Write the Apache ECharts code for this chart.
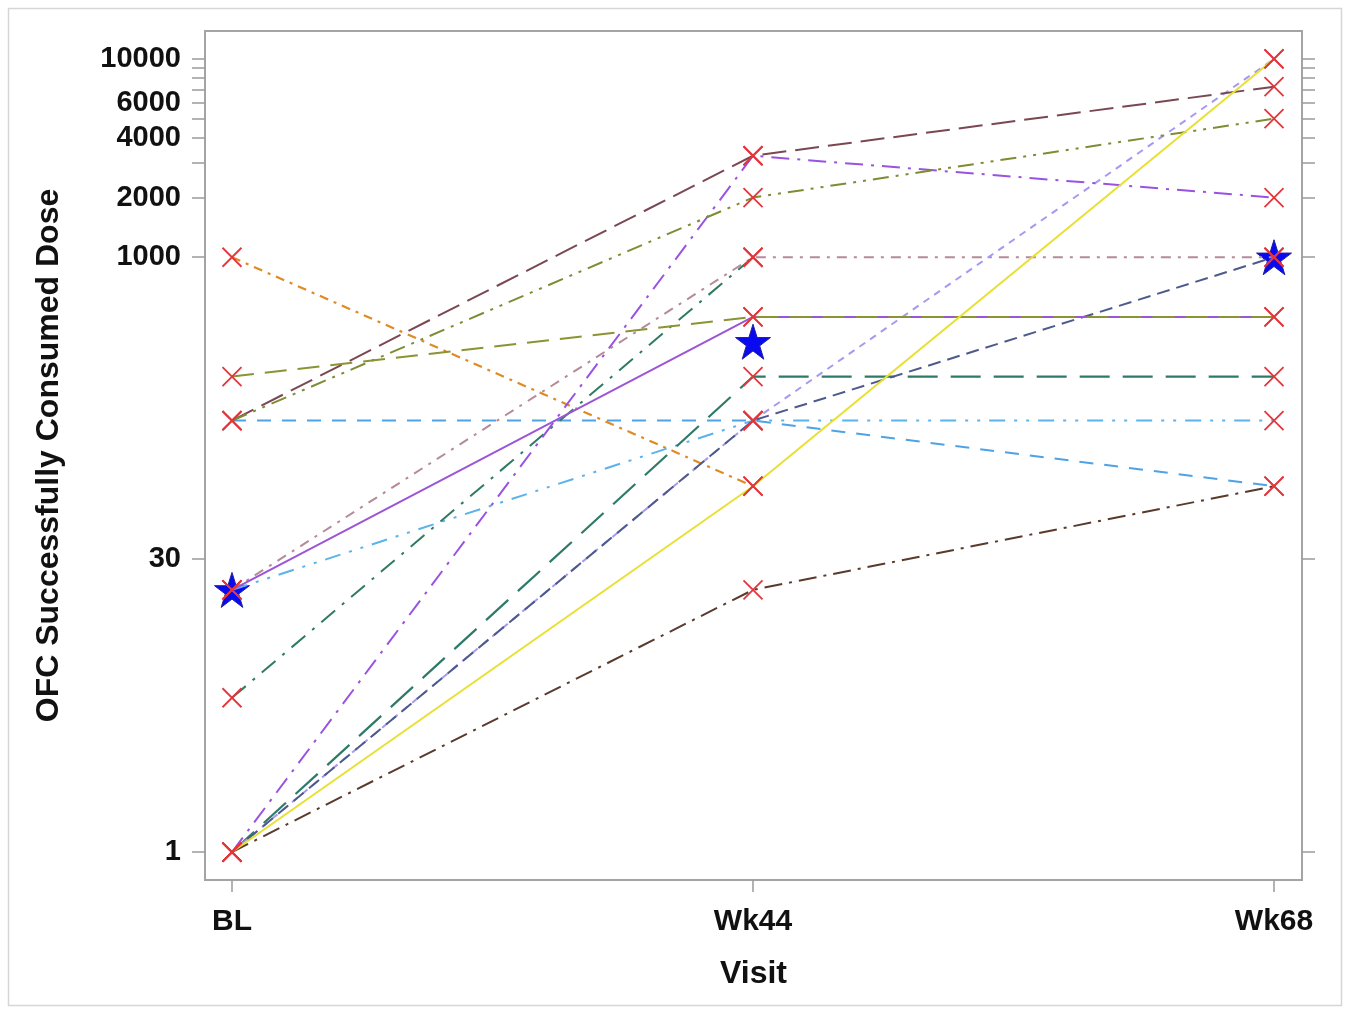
<!DOCTYPE html>
<html><head><meta charset="utf-8">
<script src="https://cdn.jsdelivr.net/npm/echarts@6/dist/echarts.min.js"></script>
<style>html,body{margin:0;padding:0;background:#fff}#c{width:1352px;height:1011px}</style>
</head><body><div id="c"></div>
<script>
// ---- data ----
const visits = ['BL', 'Wk44', 'Wk68'];
const yLabelTicks = [1, 30, 1000, 2000, 4000, 6000, 10000];
const yTickMarks = [1, 30, 1000, 2000, 3000, 4000, 5000, 6000, 7000, 8000, 9000, 10000];
// OFC successfully consumed dose per subject at BL, Wk44, Wk68 (null = no value)
const subjE = [1000, 70, null];
const subjF = [150, 150, 70];
const subjG = [21, 150, 150];
const subjI = [21, 1000, 1000];
const subjJ = [6, 1000, null];
const subjK = [1, 250, 250];
const subjM = [1, 150, 10000];
const subjL = [1, 150, 1000];
const subjH = [1, 3250, 2000];
const subjA = [150, 3250, 7250];
const subjB = [150, 2000, 5000];
const subjD = [21, 500, 500];
const subjC = [250, 500, 500];
const subjO = [1, 21, 70];
const subjN = [1, 70, 10000];
// star-marked points
const starVisits = ['BL', 'Wk44', 'Wk68'];
const starDoses = [21, 375, 1000];

// ---- styles (kept apart from data) ----
const subjects = [subjE, subjF, subjG, subjI, subjJ, subjK, subjM, subjL, subjH, subjA, subjB, subjD, subjC, subjO, subjN];
const styles = [
  {c: '#e08a22', d: [9, 6, 3, 6], w: 2.2},    // E orange dash-dot
  {c: '#4da3e6', d: [14, 11], w: 2},          // F light blue dash
  {c: '#5ab3ea', d: [16, 9, 3, 9, 3, 9], w: 2},  // G light blue dash-dot-dot
  {c: '#b58a9a', d: [10, 7, 3, 7], w: 2},     // I mauve dash-dot
  {c: '#2f7a62', d: [18, 9, 3, 9], w: 2},     // J teal dash-dot
  {c: '#2e7a68', d: [30, 13], w: 2.2},        // K teal long dash
  {c: '#a898f2', d: [7, 6], w: 2},            // M lavender short dash
  {c: '#4d5a8c', d: [13, 7], w: 2},           // L navy dash
  {c: '#9a52e0', d: [18, 8, 3, 8], w: 2},     // H purple dash-dot
  {c: '#7a4852', d: [24, 9], w: 2},           // A brown long dash
  {c: '#7e8c34', d: [16, 7, 3, 7, 3, 7], w: 2},  // B olive dash-dot-dot
  {c: '#9b55d6', d: 'solid', w: 2},           // D purple solid
  {c: '#8a9432', d: [22, 11], w: 2},          // C olive long dash
  {c: '#5a3a2c', d: [18, 7, 3, 7], w: 2},     // O dark brown dash-dot
  {c: '#e8e032', d: 'solid', w: 2}            // N yellow solid
];

const FONT = '"Liberation Sans", Arial, sans-serif';
const xPath = 'path://M0,0L10,10M10,0L0,10';
const starPath = 'path://M50,0L61.2,34.5L97.6,34.5L68.2,55.9L79.4,90.5L50,69.1L20.6,90.5L31.8,55.9L2.4,34.5L38.8,34.5Z';

const series = subjects.map((vals, k) => ({
  type: 'line',
  z: 3,
  data: vals.map((v, i) => [i, v]).filter(p => p[1] !== null),
  symbol: xPath,
  symbolSize: 19,
  showAllSymbol: true,
  itemStyle: {color: 'rgba(0,0,0,0)', borderColor: '#e3363c', borderWidth: 1.8},
  lineStyle: {color: styles[k].c, width: styles[k].w, type: styles[k].d},
  emphasis: {disabled: true},
  animation: false
}));
series.unshift({
  type: 'scatter',
  z: 2,
  data: starVisits.map((v, i) => [visits.indexOf(v), starDoses[i]]),
  symbol: starPath,
  symbolSize: 35,
  itemStyle: {color: '#0a0af0', borderColor: '#2020a0', borderWidth: 1, opacity: 1},
  emphasis: {disabled: true},
  animation: false
});

function makeY(pos, withLabels) {
  const ax = {
    type: 'log',
    logBase: 10,
    position: pos,
    min: 0.7225,
    max: 13841,
    splitLine: {show: false},
    axisLine: {show: true, onZero: false, lineStyle: {color: '#a4a4a4', width: 2}},
    axisTick: {show: true, inside: false, length: 13, lineStyle: {color: '#9a9a9a', width: 1.5}, customValues: yTickMarks.slice()},
    axisLabel: {show: false}
  };
  if (withLabels) {
    ax.axisLabel = {show: true, customValues: yLabelTicks.slice(), formatter: v => String(Math.round(v)), margin: 24,
      color: '#111', fontFamily: FONT, fontWeight: 'bold', fontSize: 29};
    ax.name = 'OFC Successfully Consumed Dose';
    ax.nameLocation = 'middle';
    ax.nameGap = 140;
    ax.nameTextStyle = {color: '#111', fontFamily: FONT, fontWeight: 'bold', fontSize: 32};
  }
  return ax;
}

const chart = echarts.init(document.getElementById('c'));
chart.setOption({
  backgroundColor: '#fff',
  animation: false,
  graphic: [{type: 'rect', shape: {x: 8.5, y: 8.5, width: 1333, height: 997}, style: {fill: 'none', stroke: '#d6d6d6', lineWidth: 1.5}, z: -10}],
  grid: {left: 205, right: 50, top: 31, bottom: 131, show: true, borderColor: '#a4a4a4', borderWidth: 2, backgroundColor: 'transparent'},
  xAxis: {
    type: 'value', min: -0.0518, max: 2.0537,
    splitLine: {show: false},
    axisLine: {show: true, onZero: false, lineStyle: {color: '#a4a4a4', width: 2}},
    axisTick: {show: true, length: 12, lineStyle: {color: '#9a9a9a', width: 1.5}, customValues: [0, 1, 2]},
    axisLabel: {customValues: [0, 1, 2], formatter: v => visits[Math.round(v)], margin: 27,
      color: '#111', fontFamily: FONT, fontWeight: 'bold', fontSize: 30},
    name: 'Visit', nameLocation: 'middle', nameGap: 78,
    nameTextStyle: {color: '#111', fontFamily: FONT, fontWeight: 'bold', fontSize: 32}
  },
  yAxis: [makeY('left', true), makeY('right', false)],
  series: series
});
</script>
</body></html>
